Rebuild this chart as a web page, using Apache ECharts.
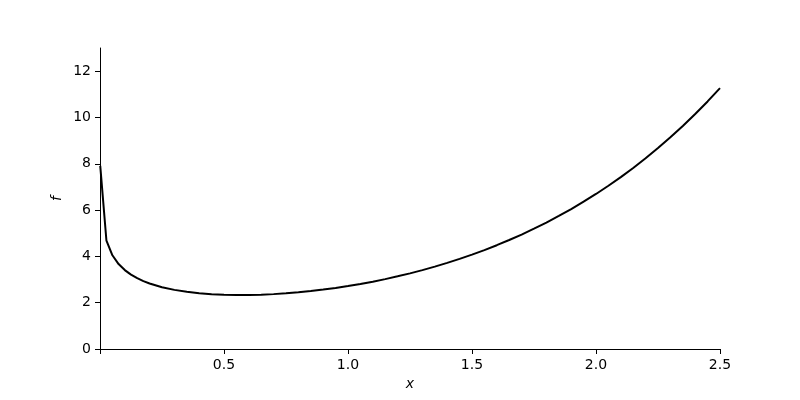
<!DOCTYPE html>
<html>
<head>
<meta charset="utf-8">
<script src="https://cdn.jsdelivr.net/npm/echarts@6/dist/echarts.min.js"></script>
<style>html,body{margin:0;padding:0;background:#fff}#c{width:800px;height:400px}</style>
</head>
<body>
<div id="c"></div>
<script>
const xValues = [0.001, 0.026, 0.05, 0.075, 0.1, 0.125, 0.15, 0.175, 0.2, 0.25, 0.3, 0.35, 0.4, 0.45, 0.5, 0.55, 0.6, 0.65, 0.7, 0.75, 0.8, 0.85, 0.9, 0.95, 1.0, 1.05, 1.1, 1.15, 1.2, 1.25, 1.3, 1.35, 1.4, 1.45, 1.5, 1.55, 1.6, 1.65, 1.7, 1.75, 1.8, 1.85, 1.9, 1.95, 2.0, 2.05, 2.1, 2.15, 2.2, 2.25, 2.3, 2.35, 2.4, 2.45, 2.5];
const fValues = [7.909, 4.676, 4.047, 3.668, 3.408, 3.213, 3.059, 2.934, 2.831, 2.670, 2.554, 2.469, 2.408, 2.367, 2.342, 2.331, 2.333, 2.346, 2.370, 2.405, 2.449, 2.502, 2.565, 2.637, 2.718, 2.809, 2.909, 3.018, 3.138, 3.267, 3.407, 3.557, 3.719, 3.892, 4.076, 4.273, 4.483, 4.706, 4.943, 5.195, 5.462, 5.745, 6.044, 6.361, 6.696, 7.050, 7.424, 7.819, 8.237, 8.677, 9.141, 9.631, 10.148, 10.692, 11.266];
const xTicks = [0, 0.5, 1.0, 1.5, 2.0, 2.5];
const yTicks = [0, 2, 4, 6, 8, 10, 12];

const font = 'DejaVu Sans';
const chart = echarts.init(document.getElementById('c'), null, {renderer: 'canvas'});
chart.setOption({
  animation: false,
  backgroundColor: '#fff',
  grid: {left: 100, right: 80, top: 48, bottom: 51, containLabel: false},
  xAxis: {
    type: 'value', min: 0, max: 2.5,
    name: 'x', nameLocation: 'middle', nameGap: 28, nameMoveOverlap: false,
    nameTextStyle: {fontFamily: font, fontSize: 14, fontStyle: 'italic', color: '#000'},
    axisLine: {show: true, onZero: false, lineStyle: {color: '#000', width: 1}},
    axisTick: {show: true, length: 5, customValues: xTicks, lineStyle: {color: '#000', width: 1}},
    axisLabel: {customValues: xTicks.slice(1), margin: 9, fontFamily: font, fontSize: 14, color: '#000',
      formatter: v => v.toFixed(1)},
    splitLine: {show: false}
  },
  yAxis: {
    type: 'value', min: 0, max: 13,
    name: 'f', nameLocation: 'middle', nameGap: 36, nameMoveOverlap: false,
    nameTextStyle: {fontFamily: font, fontSize: 14, fontStyle: 'italic', color: '#000'},
    axisLine: {show: true, lineStyle: {color: '#000', width: 1}},
    axisTick: {show: true, length: 5, customValues: yTicks, lineStyle: {color: '#000', width: 1}},
    axisLabel: {customValues: yTicks, margin: 9, fontFamily: font, fontSize: 14, color: '#000'},
    splitLine: {show: false}
  },
  series: [{
    type: 'line',
    data: xValues.map((x, i) => [x, fValues[i]]),
    showSymbol: false, smooth: false,
    lineStyle: {color: '#000', width: 2},
    clip: true
  }]
});
</script>
</body>
</html>
